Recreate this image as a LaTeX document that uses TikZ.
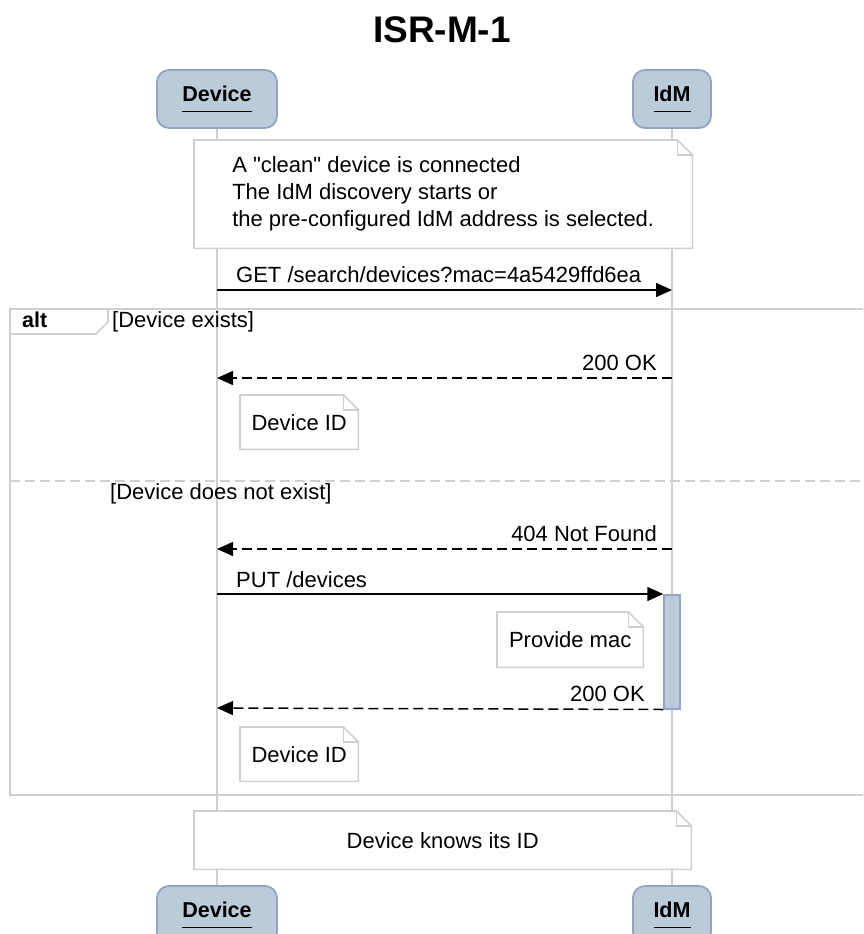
\documentclass[tikz,border=0pt]{standalone}
\usepackage{fontspec}
\setmainfont{Liberation Sans}
\usetikzlibrary{arrows.meta,positioning}
\definecolor{partfill}{HTML}{BCCBDA}
\definecolor{partdraw}{HTML}{91A4C4}
\definecolor{linegray}{HTML}{CFCFCF}
% participant name with a detached underline
\newcommand{\plabel}[1]{\setbox0=\hbox{#1}\vbox{\box0\kern9pt\hrule height1.6pt}}
% outline of a note with a folded corner
\newcommand{\notefold}[1]{%
  \draw[notedraw] (#1.north west) -- ([xshift=-15pt]#1.north east)
    -- ([yshift=-15pt]#1.north east) -- (#1.south east) -- (#1.south west) -- cycle;
  \draw[notedraw] ([xshift=-15pt]#1.north east) -- ([xshift=-15pt,yshift=-15pt]#1.north east)
    -- ([yshift=-15pt]#1.north east);
}
\tikzset{
  txt/.style={font=\fontsize{22}{27}\selectfont},
  participant/.style={draw=partdraw, fill=partfill, line width=1.8pt, rounded corners=12pt,
    minimum height=58pt, inner sep=0pt, font=\fontsize{21.5}{26}\selectfont\bfseries},
  lifeline/.style={draw=linegray, line width=1.6pt},
  notebox/.style={txt, fill=white, inner sep=0pt, align=left},
  notedraw/.style={draw=linegray, line width=1.6pt, line join=miter},
  framedraw/.style={draw=linegray, line width=1.6pt},
  msg/.style={-{Triangle[length=16pt,width=14pt]}, line width=1.5pt},
  reply/.style={msg, dash pattern=on 10pt off 5pt},
  msglabel/.style={txt, inner sep=0pt},
  activation/.style={draw=partdraw, fill=partfill, line width=1.5pt},
}
\begin{document}
\begin{tikzpicture}[x=1pt, y=-1pt]
  \useasboundingbox (0,0) rectangle (863,934);
  \fill[white] (0,0) rectangle (863,934);
  \clip (0,0) rectangle (863,934);

  \node[font=\fontsize{37}{40}\selectfont\bfseries, anchor=base] (title) at (442,43) {ISR-M-1};

  % participants
  \node[participant, minimum width=120pt] (devtop) at (217,99) {\plabel{Device}};
  \node[participant, minimum width=78pt] (idmtop) at (672,99) {\plabel{IdM}};
  \node[participant, minimum width=120pt] (devbot) at (217,915) {\plabel{Device}};
  \node[participant, minimum width=78pt] (idmbot) at (672,915) {\plabel{IdM}};

  % lifelines
  \draw[lifeline] (devtop) -- (devbot);
  \draw[lifeline] (idmtop) -- (idmbot);

  % opening note
  \node[notebox, minimum width=498pt, minimum height=108pt, anchor=north west] (startnote) at (194,140)
    {A \textquotedbl clean\textquotedbl{} device is connected\\The IdM discovery starts or\\the pre-configured IdM address is selected.};
  \notefold{startnote}

  % lookup
  \coordinate (get-s) at (217,290);
  \coordinate (get-e) at (672,290);
  \draw[msg] (get-s) -- (get-e);
  \node[msglabel, anchor=base west] (getlbl) at (236,282) {GET /search/devices?mac=4a5429ffd6ea};

  % alt frame
  \draw[framedraw] (10,309) rectangle (890,795);
  \draw[framedraw] (10,334) -- (96,334) -- (108,322) -- (108,309);
  \node[font=\fontsize{21.5}{26}\selectfont\bfseries, inner sep=0pt, anchor=base west] (altlbl) at (22,327) {alt};
  \node[msglabel, anchor=base west] (guard1) at (112,327) {[Device exists]};

  \coordinate (ok1-s) at (672,378);
  \coordinate (ok1-e) at (217,378);
  \draw[reply] (ok1-s) -- (ok1-e);
  \node[msglabel, anchor=base east] (ok1lbl) at (657,370) {200 OK};

  \node[notebox, minimum width=118pt, minimum height=54pt, anchor=north west] (idnote1) at (240,395) {Device ID};
  \notefold{idnote1}

  % else branch
  \draw[draw=linegray, line width=1.6pt, dash pattern=on 10pt off 5pt] (10,481) -- (890,481);
  \node[msglabel, anchor=base west] (guard2) at (110,499) {[Device does not exist]};

  \coordinate (nf-s) at (672,549);
  \coordinate (nf-e) at (217,549);
  \draw[reply] (nf-s) -- (nf-e);
  \node[msglabel, anchor=base east] (nflbl) at (657,541) {404 Not Found};

  \node[activation, minimum width=16pt, minimum height=114pt, inner sep=0pt, anchor=north] (act) at (672,594) {};

  \coordinate (put-s) at (217,594);
  \draw[msg] (put-s) -- (act.north west);
  \node[msglabel, anchor=base west] (putlbl) at (236,587) {PUT /devices};

  \node[notebox, minimum width=146pt, minimum height=55pt, anchor=north west] (macnote) at (497,612) {Provide mac};
  \notefold{macnote}

  \coordinate (ok2-e) at (217,708);
  \draw[reply] (act.south west) -- (ok2-e);
  \node[msglabel, anchor=base east] (ok2lbl) at (645,701) {200 OK};

  \node[notebox, minimum width=118pt, minimum height=54pt, anchor=north west] (idnote2) at (240,727) {Device ID};
  \notefold{idnote2}

  % closing note
  \node[notebox, minimum width=497pt, minimum height=58pt, anchor=north west] (endnote) at (194,811) {Device knows its ID};
  \notefold{endnote}
\end{tikzpicture}
\end{document}
